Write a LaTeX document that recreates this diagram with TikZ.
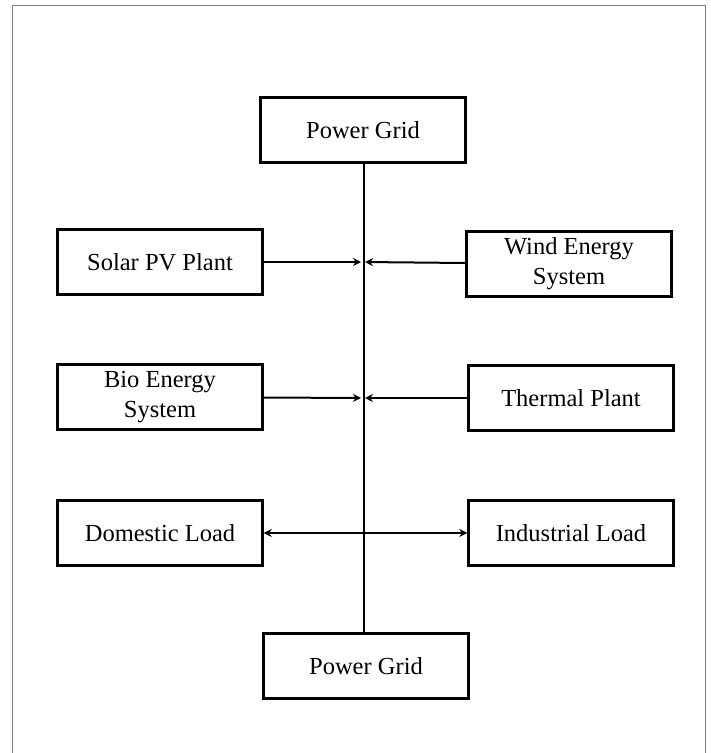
\documentclass[tikz,border=0pt]{standalone}
\usepackage{fontspec}
\setmainfont{Liberation Serif}
\usepackage{tikz}
\usetikzlibrary{arrows.meta,positioning,calc}

\begin{document}
\begin{tikzpicture}[x=1pt,y=-1pt,% one unit is one pixel of the layout
			every node/.style={
				align=center,		% so that "\\" breaks the line
				minimum width=205pt,	% all boxes have the same size
				minimum height=65pt,
				font=\fontsize{24.5}{30}\selectfont
			},
			box/.style={rectangle,draw=black,line width=2.4pt,fill=white},
			every edge/.style={draw,line width=2pt},
			tip/.style={-{Stealth[length=8pt,width=8pt]}}
		]
		\useasboundingbox (0,0) rectangle (711,753);
		% frame round the figure
		\draw[gray,line width=1pt] (12,753) -- (12,5) -- (705,5) -- (705,753);

		\node[box](R1) at (363,130){Power Grid};
		\node[box](R2) at (160,262){Solar PV Plant};
		\node[box](R3) at (569,264){Wind Energy \\ System};
		\node[box](R4) at (160,397){Bio Energy \\ System};
		\node[box](R5) at (571,398){Thermal Plant};
		\node[box](R6) at (160,533){Domestic Load};
		\node[box](R7) at (571,533){Industrial Load};
		\node[box](R8) at (366,666){Power Grid};

		% points on the bus line
		\coordinate (B1) at (R1.south |- 0,262);
		\coordinate (B2) at (R1.south |- 0,398);

		\draw[line width=2pt] ($(R1.south)+(1,0)$) -- ($(R1.south |- R8.north)+(1,0)$);
		\path[tip]
		(R2)edge [shorten >=2pt] (B1)
		(R3)edge [shorten >=2pt] (B1)
		(R4)edge [shorten >=2pt] (B2)
		(R5)edge [shorten >=2pt] (B2)
		;
		\path[{Stealth[length=8pt,width=8pt]}-{Stealth[length=8pt,width=8pt]}]
		(R6)edge [] (R7)
		;
	\end{tikzpicture}
\end{document}
